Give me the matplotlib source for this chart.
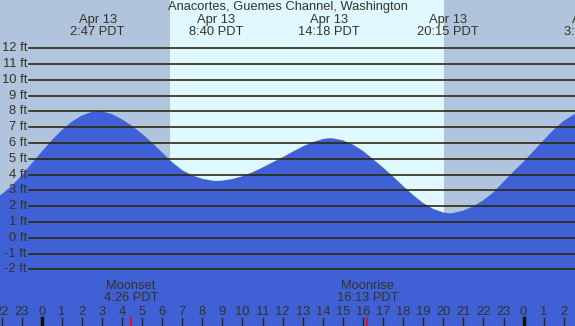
import matplotlib
matplotlib.use("Agg")
import matplotlib.pyplot as plt
import matplotlib.transforms as mtransforms

# tide height (hours from local midnight Apr 13, feet)
hours = [-2.1, -2.0, -1.5, -1.0, -0.5, 0.0, 0.5, 1.0, 1.5, 2.0, 2.5, 2.78,
         3.0, 3.5, 4.0, 4.5, 5.0, 5.5, 6.0, 6.5, 7.0, 7.5, 8.0, 8.5, 8.67,
         9.0, 9.5, 10.0, 10.5, 11.0, 11.5, 12.0, 12.5, 13.0, 13.5, 14.0, 14.3,
         14.5, 15.0, 15.5, 16.0, 16.5, 17.0, 17.5, 18.0, 18.5, 19.0, 19.5, 20.0,
         20.25, 20.5, 21.0, 21.5, 22.0, 22.5, 23.0, 23.5, 24.0, 24.5, 25.0,
         25.5, 26.0, 26.5, 26.6]
heights = [2.67, 2.76, 3.28, 3.95, 4.7, 5.45, 6.17, 6.82, 7.35, 7.74, 7.97, 8.03,
           8.01, 7.83, 7.5, 7.08, 6.58, 6.02, 5.4, 4.78, 4.28, 3.95, 3.73, 3.62, 3.6,
           3.62, 3.72, 3.9, 4.15, 4.45, 4.78, 5.1, 5.45, 5.78, 6.05, 6.25, 6.3,
           6.29, 6.17, 5.9, 5.5, 4.98, 4.45, 3.88, 3.28, 2.7, 2.2, 1.83, 1.6,
           1.55, 1.57, 1.72, 2.0, 2.38, 2.88, 3.55, 4.2, 4.82, 5.5, 6.18,
           6.85, 7.4, 7.8, 7.86]

# high / low tide labels
extreme_hours = [2.783, 8.667, 14.3, 20.25, 27.35]
extreme_labels = ["2:47 PDT", "8:40 PDT", "14:18 PDT", "20:15 PDT", "3:21 PDT"]

sunrise = 6.39
sunset = 20.03
moon_events = [4.433, 16.217]
moon_labels = ["Moonset\n4:26 PDT", "Moonrise\n16:13 PDT"]

ft_levels = list(range(-2, 13))
hour_ticks = list(range(-2, 27))

title = "Anacortes, Guemes Channel, Washington"

night_col = "#b0c4de"
day_col = "#e0f8ff"
water_col = "#4060d5"
line_col = "#2a2a10"
text_col = "#333322"
fs = 9.3

x0, x1 = -2.077, 26.56
y0, y1 = -5.58, 15.05

plt.rcParams["font.family"] = ["Liberation Sans", "DejaVu Sans"]

fig = plt.figure(figsize=(5.75, 3.26), dpi=100)
ax = fig.add_axes([0, 0, 1, 1])
ax.set_xlim(x0, x1)
ax.set_ylim(y0, y1)
ax.axis("off")

# day / night background
ax.axvspan(x0, x1, color=day_col, zorder=0, lw=0)
ax.axvspan(x0, sunrise, color=night_col, zorder=0, lw=0)
ax.axvspan(sunset, x1, color=night_col, zorder=0, lw=0)

# water
ax.fill_between(hours, heights, y0, color=water_col, lw=0, zorder=1)

# level lines and labels
ytrans = mtransforms.blended_transform_factory(ax.transAxes, ax.transData)
for lv in ft_levels:
    ax.axhline(lv, xmin=29 / 575, xmax=1, color=line_col, lw=1.2, zorder=2)
    ax.text(27 / 575, lv, f"{lv} ft", transform=ytrans,
            ha="right", va="center", fontsize=fs, color=text_col, zorder=3)

# title
ax.text(0.5, 0.977, title, transform=ax.transAxes, ha="center", va="center",
        fontsize=fs, color=text_col, zorder=3)

# extremes
xtrans = mtransforms.blended_transform_factory(ax.transData, ax.transAxes)
for h, lab in zip(extreme_hours, extreme_labels):
    ax.text(h, 0.921, "Apr 13\n" + lab, transform=xtrans, ha="center", va="center",
            fontsize=fs, color=text_col, linespacing=1.0, zorder=3)

# moon events
for h, lab in zip(moon_events, moon_labels):
    ax.text(h, 0.103, lab, transform=xtrans, ha="center", va="center",
            fontsize=fs, color=text_col, linespacing=1.0, zorder=3)
    ax.plot([h, h], [0, 0.0245], transform=xtrans, color="red", lw=1.2, zorder=3)

# hour ticks
for h in hour_ticks:
    lab = str(h % 24)
    ax.text(h, 0.043, lab, transform=xtrans, ha="center", va="center",
            fontsize=fs, color=text_col, zorder=3)
    if h % 24 == 0:
        ax.plot([h, h], [0, 0.0245], transform=xtrans, color="#111100", lw=2.5, zorder=3)
    else:
        ax.plot([h, h], [0, 0.0245], transform=xtrans, color=line_col, lw=1, zorder=3)

fig.savefig("out.png", dpi=100)
